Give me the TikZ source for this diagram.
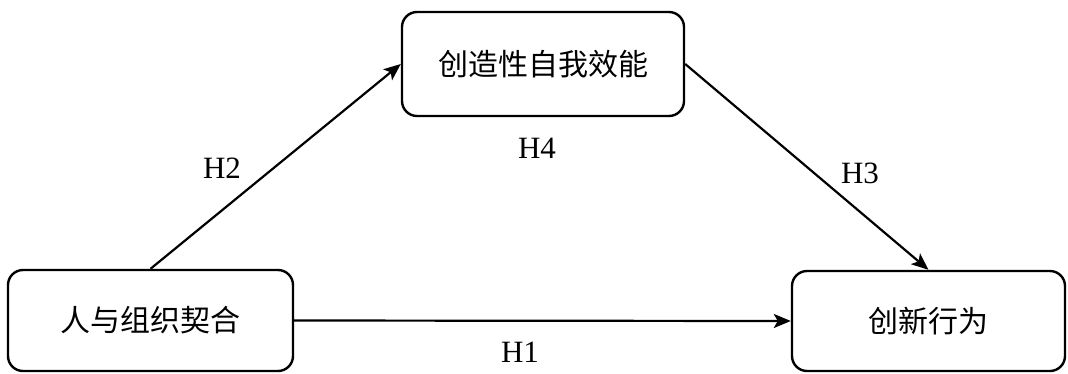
\documentclass[tikz,border=0pt]{standalone}
\usepackage{fontspec}
\setmainfont{Liberation Serif}
\newfontfamily\cjk{Noto Sans CJK SC}
\usetikzlibrary{arrows.meta}
\begin{document}
\begin{tikzpicture}[x=1pt,y=-1pt,
  box/.style={draw=black, line width=2.4pt, rounded corners=15pt, fill=white,
    font=\cjk\fontsize{30}{36}\selectfont, inner sep=0pt},
  conn/.style={line width=2.2pt, -{Stealth[length=17pt,width=14pt,inset=4pt]}},
  lab/.style={font=\fontsize{31}{36}\selectfont, inner sep=0pt}]
\useasboundingbox (0,0) rectangle (1068,373);
\node[box, minimum width=285pt, minimum height=101pt] (pof) at (150.5,320.5) {人与组织契合};
\node[box, minimum width=282pt, minimum height=104pt] (cse) at (543,64) {创造性自我效能};
\node[box, minimum width=273pt, minimum height=100pt] (ib) at (928.5,321) {创新行为};
\draw[conn] (pof.north) -- (cse.west);
\draw[conn] (cse.east) -- (ib.north);
\draw[conn] (pof.east) -- (ib.west);
\node[lab] (h2) at (222,168) {H2};
\node[lab] (h3) at (860,173) {H3};
\node[lab] (h4) at (537,148) {H4};
\node[lab] (h1) at (520,352) {H1};
\end{tikzpicture}
\end{document}
